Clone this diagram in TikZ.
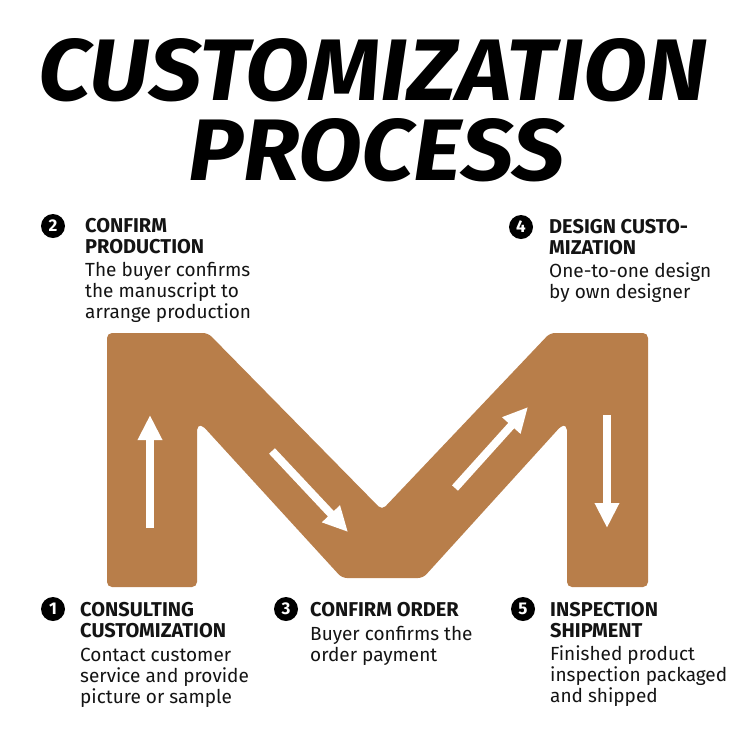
\documentclass[tikz,border=0pt]{standalone}
\usepackage{fontspec}
\setmainfont{Fira Sans}
\usetikzlibrary{arrows.meta}
\definecolor{mbrown}{RGB}{184,126,74}
\definecolor{ink}{RGB}{20,20,20}
\tikzset{
  head/.style={anchor=base west,inner sep=0pt,text=ink,font=\fontsize{20}{21}\selectfont\bfseries},
  body/.style={anchor=base west,inner sep=0pt,text=ink,font=\fontsize{19}{21}\selectfont},
  num/.style={circle,fill=black,text=white,inner sep=0pt,minimum size=24pt,font=\fontsize{17}{17}\selectfont\bfseries},
  arr/.style={draw=white,line width=8pt,-{Triangle[width=23pt,length=25pt]}},
}
\begin{document}
\begin{tikzpicture}[x=1pt,y=-1pt]
\useasboundingbox[fill=white] (0,0) rectangle (750,740);
% title
\node[anchor=base west,inner sep=0pt] (t1) at (38,100) {\resizebox{669pt}{62pt}{\bfseries\itshape CUSTOMIZATION}};
\node[anchor=base west,inner sep=0pt] (t2) at (188,180) {\resizebox{376pt}{62pt}{\bfseries\itshape PROCESS}};
% M shape
\fill[mbrown,rounded corners=5pt] (107,587) -- (107,333) -- (208,333) -- (382,510) -- (550,333) -- (648,333)
  -- (648,587) -- (567,587) -- (567,425) -- (562,425) -- (423,578) -- (342,578) -- (202,425) -- (197,425)
  -- (197,587) -- cycle;
% arrows
\coordinate (a1s) at (150,528); \coordinate (a1e) at (150,415);
\coordinate (a2s) at (272,451); \coordinate (a2e) at (348,532);
\coordinate (a3s) at (455,488); \coordinate (a3e) at (528,407);
\coordinate (a4s) at (607,415); \coordinate (a4e) at (607,528);
\draw[arr] (a1s) -- (a1e);
\draw[arr] (a2s) -- (a2e);
\draw[arr] (a3s) -- (a3e);
\draw[arr] (a4s) -- (a4e);
% step 2
\node[num] (n2) at (53,226) {2};
\node[head] (h2a) at (85,232) {CONFIRM};
\node[head] (h2b) at (85,253) {PRODUCTION};
\node[body] (b2a) at (85,276) {The buyer confirms};
\node[body] (b2b) at (85,297) {the manuscript to};
\node[body] (b2c) at (85,318) {arrange production};
% step 4
\node[num] (n4) at (521,227) {4};
\node[head] (h4a) at (549,233) {DESIGN CUSTO-};
\node[head] (h4b) at (549,254) {MIZATION};
\node[body] (b4a) at (549,277) {One-to-one design};
\node[body] (b4b) at (549,298) {by own designer};
% step 1
\node[num] (n1) at (53,609) {1};
\node[head] (h1a) at (80,616) {CONSULTING};
\node[head] (h1b) at (80,637) {CUSTOMIZATION};
\node[body] (b1a) at (80,661) {Contact customer};
\node[body] (b1b) at (80,682) {service and provide};
\node[body] (b1c) at (80,703) {picture or sample};
% step 3
\node[num] (n3) at (286,609) {3};
\node[head] (h3a) at (310,616) {CONFIRM ORDER};
\node[body] (b3a) at (310,640) {Buyer confirms the};
\node[body] (b3b) at (310,661) {order payment};
% step 5
\node[num] (n5) at (523,609) {5};
\node[head] (h5a) at (550,616) {INSPECTION};
\node[head] (h5b) at (550,637) {SHIPMENT};
\node[body] (b5a) at (550,660) {Finished product};
\node[body] (b5b) at (550,681) {inspection packaged};
\node[body] (b5c) at (550,702) {and shipped};
\end{tikzpicture}
\end{document}
